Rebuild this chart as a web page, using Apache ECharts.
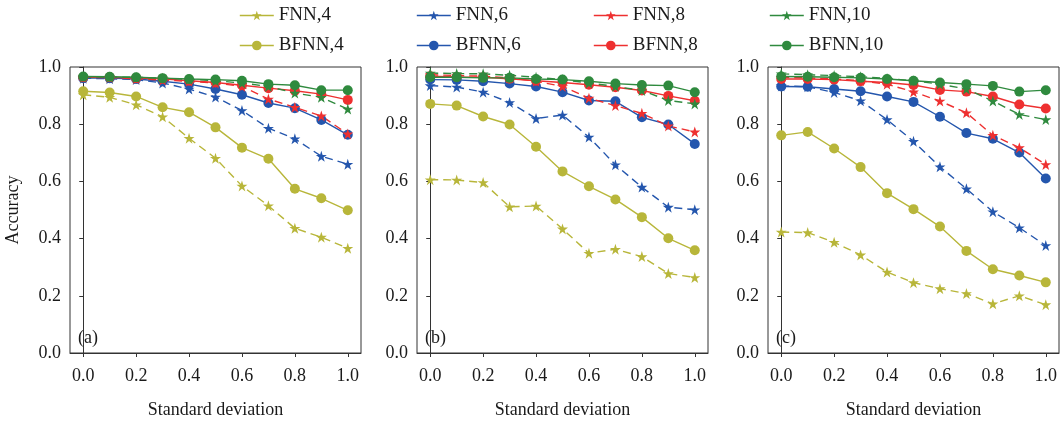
<!DOCTYPE html>
<html>
<head>
<meta charset="utf-8">
<script src="https://cdn.jsdelivr.net/npm/echarts@6/dist/echarts.min.js"></script>
<style>
  html, body { margin: 0; padding: 0; background: #fff; }
  #chart { width: 1063px; height: 427px; }
</style>
</head>
<body>
<div id="chart"></div>
<script>
// x positions: standard deviation of the noise
const stdDev = [0.0, 0.1, 0.2, 0.3, 0.4, 0.5, 0.6, 0.7, 0.8, 0.9, 1.0];
const xTicks = [0.0, 0.2, 0.4, 0.6, 0.8, 1.0];
const panelLabels = ['(a)', '(b)', '(c)'];
const seriesNames = ['FNN,4', 'BFNN,4', 'FNN,6', 'BFNN,6', 'FNN,8', 'BFNN,8', 'FNN,10', 'BFNN,10'];

// panel (a)
const a_fnn4 = [0.903, 0.894, 0.868, 0.826, 0.751, 0.681, 0.584, 0.515, 0.436, 0.405, 0.366];
const a_bfnn4 = [0.915, 0.911, 0.897, 0.859, 0.842, 0.789, 0.718, 0.679, 0.574, 0.541, 0.499];
const a_fnn6 = [0.961, 0.959, 0.956, 0.944, 0.923, 0.895, 0.848, 0.786, 0.749, 0.688, 0.660];
const a_bfnn6 = [0.961, 0.961, 0.958, 0.950, 0.940, 0.923, 0.903, 0.874, 0.856, 0.815, 0.763];
const a_fnn8 = [0.964, 0.963, 0.959, 0.954, 0.950, 0.944, 0.932, 0.888, 0.859, 0.829, 0.766];
const a_bfnn8 = [0.964, 0.964, 0.961, 0.959, 0.952, 0.946, 0.936, 0.926, 0.917, 0.905, 0.885];
const a_fnn10 = [0.966, 0.965, 0.964, 0.961, 0.957, 0.952, 0.944, 0.932, 0.909, 0.894, 0.853];
const a_bfnn10 = [0.967, 0.966, 0.964, 0.961, 0.958, 0.956, 0.952, 0.940, 0.936, 0.919, 0.919];

// panel (b)
const b_fnn4 = [0.606, 0.605, 0.596, 0.511, 0.514, 0.434, 0.349, 0.363, 0.337, 0.278, 0.264];
const b_bfnn4 = [0.871, 0.865, 0.827, 0.799, 0.721, 0.635, 0.583, 0.537, 0.475, 0.401, 0.359];
const b_fnn6 = [0.935, 0.930, 0.912, 0.876, 0.820, 0.832, 0.755, 0.658, 0.580, 0.510, 0.501];
const b_bfnn6 = [0.956, 0.955, 0.950, 0.942, 0.932, 0.912, 0.883, 0.880, 0.824, 0.799, 0.731];
const b_fnn8 = [0.973, 0.970, 0.968, 0.962, 0.950, 0.932, 0.891, 0.865, 0.838, 0.794, 0.773];
const b_bfnn8 = [0.968, 0.965, 0.964, 0.959, 0.952, 0.946, 0.938, 0.929, 0.918, 0.899, 0.882];
const b_fnn10 = [0.979, 0.977, 0.976, 0.971, 0.964, 0.956, 0.944, 0.932, 0.918, 0.883, 0.871];
const b_bfnn10 = [0.964, 0.964, 0.962, 0.962, 0.958, 0.956, 0.950, 0.942, 0.937, 0.935, 0.912];

// panel (c)
const c_fnn4 = [0.423, 0.421, 0.387, 0.343, 0.283, 0.246, 0.225, 0.208, 0.172, 0.200, 0.169];
const c_bfnn4 = [0.761, 0.773, 0.715, 0.650, 0.559, 0.503, 0.442, 0.357, 0.293, 0.271, 0.247];
const c_fnn6 = [0.934, 0.931, 0.911, 0.882, 0.816, 0.740, 0.651, 0.574, 0.494, 0.438, 0.376];
const c_bfnn6 = [0.932, 0.931, 0.923, 0.915, 0.897, 0.878, 0.826, 0.769, 0.749, 0.701, 0.610];
const c_fnn8 = [0.964, 0.962, 0.958, 0.952, 0.940, 0.913, 0.881, 0.840, 0.761, 0.718, 0.659];
const c_bfnn8 = [0.958, 0.958, 0.956, 0.950, 0.946, 0.937, 0.920, 0.914, 0.897, 0.869, 0.855];
const c_fnn10 = [0.976, 0.973, 0.970, 0.966, 0.960, 0.952, 0.940, 0.923, 0.881, 0.834, 0.816];
const c_bfnn10 = [0.967, 0.966, 0.964, 0.962, 0.958, 0.952, 0.946, 0.940, 0.934, 0.914, 0.919];

const panels = [
  [a_fnn4, a_bfnn4, a_fnn6, a_bfnn6, a_fnn8, a_bfnn8, a_fnn10, a_bfnn10],
  [b_fnn4, b_bfnn4, b_fnn6, b_bfnn6, b_fnn8, b_bfnn8, b_fnn10, b_bfnn10],
  [c_fnn4, c_bfnn4, c_fnn6, c_bfnn6, c_fnn8, c_bfnn8, c_fnn10, c_bfnn10]
];

const COLORS = ['#b8b63a', '#b8b63a', '#2456ad', '#2456ad', '#ee3030', '#ee3030', '#2f8a3e', '#2f8a3e'];
const FONT = '"Liberation Serif", "DejaVu Serif", serif';
const STAR = 'path://M50,0 L61.2,34.5 L97.6,34.5 L68.2,55.9 L79.4,90.5 L50,69.1 L20.6,90.5 L31.8,55.9 L2.4,34.5 L38.8,34.5 Z';

const gridLefts = [70, 417, 768];
const GRID_W = 291, GRID_TOP = 67, GRID_H = 286;

const grid = gridLefts.map(l => ({
  left: l, top: GRID_TOP, width: GRID_W, height: GRID_H,
  show: true, borderColor: '#333', borderWidth: 1, backgroundColor: 'transparent'
}));

const axisText = { color: '#1a1a1a', fontFamily: FONT, fontSize: 18 };

const xAxis = gridLefts.map((l, i) => ({
  type: 'value', gridIndex: i, min: -0.05, max: 1.05,
  name: 'Standard deviation', nameLocation: 'middle', nameGap: 48,
  nameTextStyle: { color: '#1a1a1a', fontFamily: FONT, fontSize: 18 },
  splitLine: { show: false },
  axisLine: { show: true, onZero: false, lineStyle: { color: '#333', width: 1 } },
  axisTick: { show: true, inside: false, length: 4, customValues: xTicks, lineStyle: { color: '#333' } },
  axisLabel: Object.assign({ margin: 14, customValues: xTicks, formatter: v => v.toFixed(1) }, axisText)
}));

const yAxis = gridLefts.map((l, i) => ({
  type: 'value', gridIndex: i, min: 0, max: 1, interval: 0.2,
  name: i === 0 ? 'Accuracy' : '', nameLocation: 'middle', nameGap: 48,
  nameTextStyle: { color: '#1a1a1a', fontFamily: FONT, fontSize: 18 },
  splitLine: { show: false },
  axisLine: { show: true, lineStyle: { color: '#333', width: 1 } },
  axisTick: { show: true, inside: false, length: 4, lineStyle: { color: '#333' } },
  axisLabel: Object.assign({ margin: 9, formatter: v => v.toFixed(1) }, axisText)
}));

const series = [];
panels.forEach((sets, p) => {
  sets.forEach((vals, k) => {
    const isFnn = k % 2 === 0;
    series.push({
      name: seriesNames[k], type: 'line', xAxisIndex: p, yAxisIndex: p,
      data: stdDev.map((x, j) => [x, vals[j]]),
      symbol: isFnn ? STAR : 'circle',
      symbolSize: isFnn ? 11 : 10,
      showAllSymbol: true,
      itemStyle: { color: COLORS[k] },
      lineStyle: { color: COLORS[k], width: 1.4, type: isFnn ? [8, 5] : 'solid' },
      emphasis: { disabled: true },
      animation: false
    });
  });
});

// one legend block per entry so the 4x2 layout sits where the reference has it
const legendLefts = [234, 411, 588, 764];
const legend = seriesNames.map((n, k) => ({
  data: [n],
  left: legendLefts[Math.floor(k / 2)],
  top: k % 2 === 0 ? 1 : 31,
  itemWidth: 34, itemHeight: 12, itemGap: 0,
  lineStyle: { type: 'solid', width: 1.6 },
  textStyle: { color: '#1a1a1a', fontFamily: FONT, fontSize: 19 },
  selectedMode: false
}));

const graphic = panelLabels.map((t, i) => ({
  type: 'text', left: gridLefts[i] + 8, top: 329,
  style: { text: t, fill: '#1a1a1a', font: '18px ' + FONT }
}));

const chart = echarts.init(document.getElementById('chart'));
chart.setOption({
  backgroundColor: '#fff',
  animation: false,
  grid, xAxis, yAxis, series, legend, graphic
});
</script>
</body>
</html>
